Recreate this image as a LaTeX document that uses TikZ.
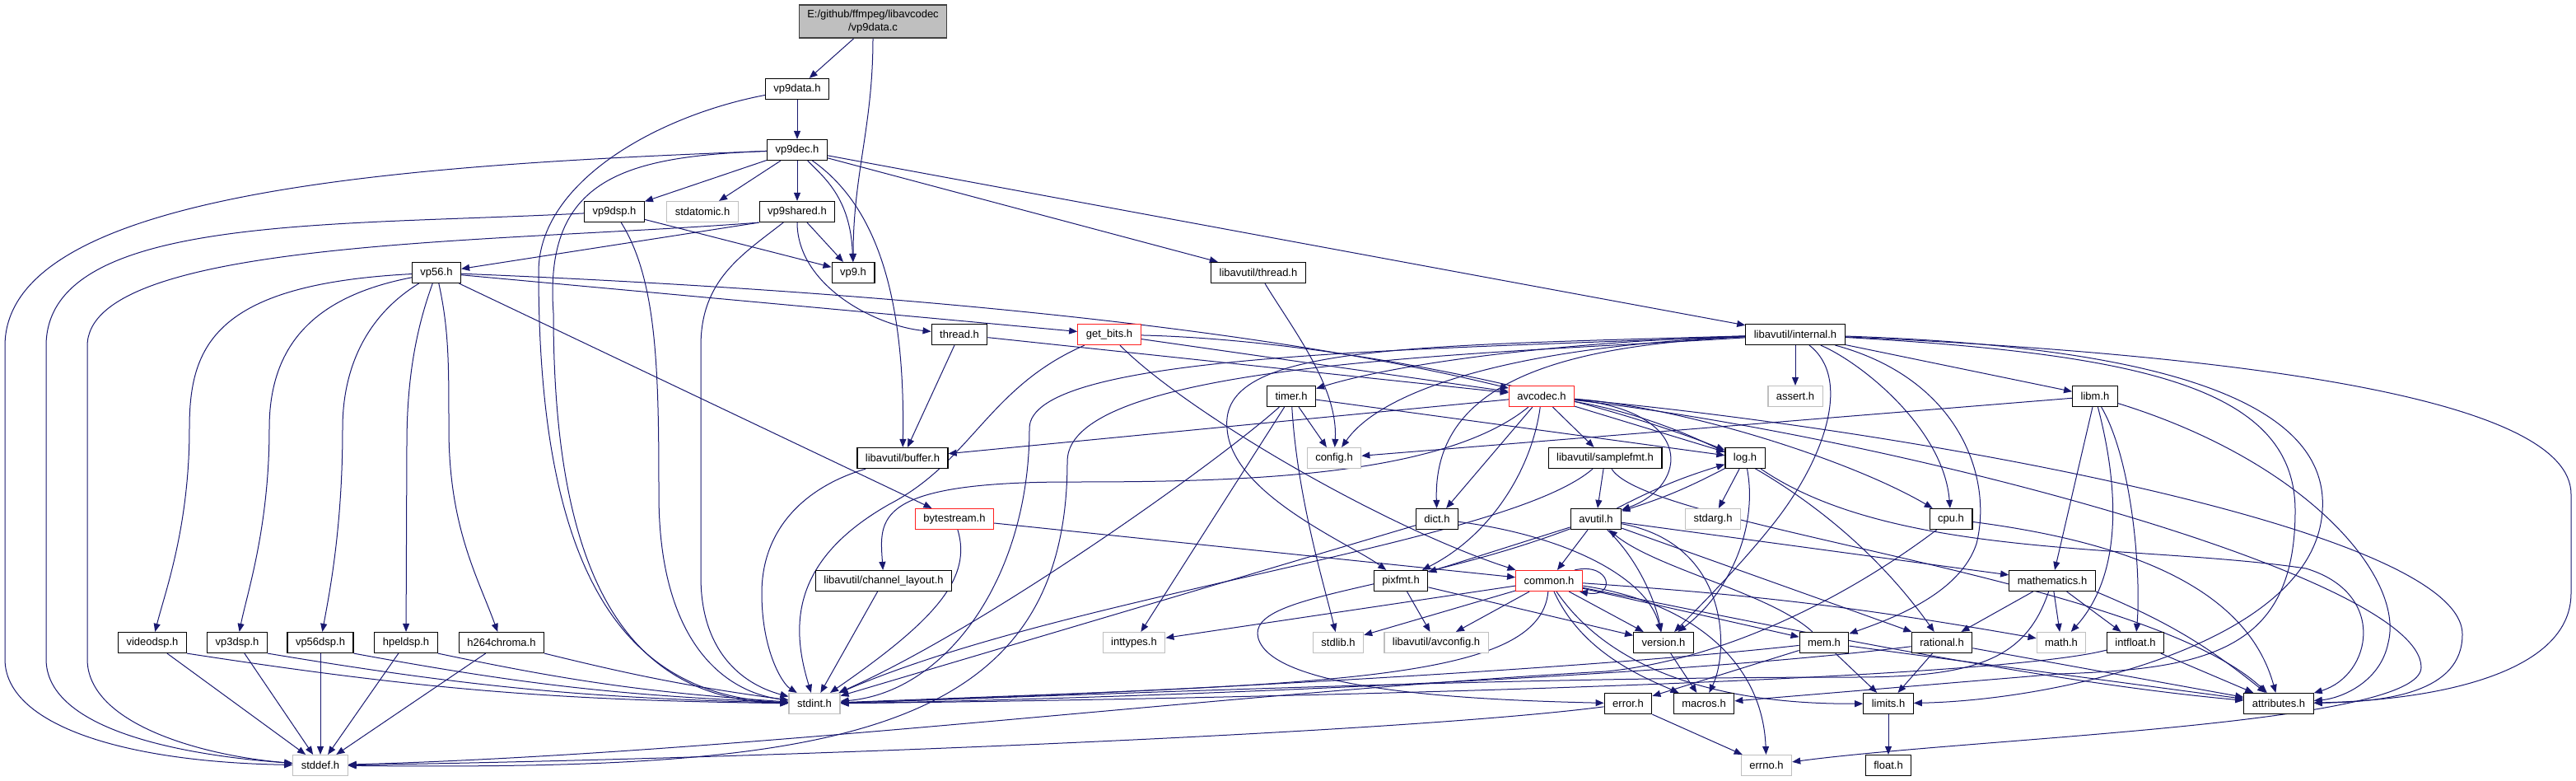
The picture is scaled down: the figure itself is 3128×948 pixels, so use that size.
\documentclass[tikz,border=0pt]{standalone}
\usepackage{fontspec}
\setmainfont{Liberation Sans}
\usepackage{tikz}
\usetikzlibrary{arrows.meta, backgrounds}
\definecolor{edgeblue}{HTML}{191970}
\definecolor{sysgray}{HTML}{BFBFBF}
\definecolor{truncred}{HTML}{FF2020}
\tikzset{
	hdr/.style={rectangle, draw=black, line width=0.6pt, fill=white, inner xsep=5pt,
		inner ysep=1pt, minimum height=12.5pt, font=\fontsize{6.5}{8}\selectfont},
	syshdr/.style={hdr, draw=sysgray},
	trunc/.style={hdr, draw=truncred},
	root/.style={hdr, fill=sysgray, draw=black!75, align=center, minimum height=20pt},
	arr/.style={-{Triangle[length=5pt, width=4pt]}, line width=0.5pt, color=edgeblue},
}
\begin{document}
\begin{tikzpicture}[x=0.5pt, y=-0.5pt]
	\useasboundingbox (0,0) rectangle (3128,948);
	
	\node[root] (vpc) at (1060,26) {E:/github/ffmpeg/libavcodec\\/vp9data.c};
	\node[hdr] (vdh) at (968,108) {vp9data.h};
	\node[hdr] (vdec) at (968,182) {vp9dec.h};
	\node[hdr] (vdsp) at (746,257) {vp9dsp.h};
	\node[syshdr] (atom) at (853,257) {stdatomic.h};
	\node[hdr] (vsh) at (968,257) {vp9shared.h};
	\node[hdr] (vp56) at (530,331) {vp56.h};
	\node[hdr] (vp9) at (1036,331) {vp9.h};
	\node[hdr] (uthr) at (1528,331) {libavutil/thread.h};
	\node[hdr] (thr) at (1165,406) {thread.h};
	\node[trunc] (gbits) at (1347,406) {get\_bits.h};
	\node[hdr] (intl) at (2180,406) {libavutil/internal.h};
	\node[hdr] (timer) at (1568,481) {timer.h};
	\node[trunc] (avc) at (1872,481) {avcodec.h};
	\node[syshdr] (assrt) at (2180,481) {assert.h};
	\node[hdr] (libm) at (2544,481) {libm.h};
	\node[hdr] (buf) at (1096,556) {libavutil/buffer.h};
	\node[syshdr] (cfg) at (1620,556) {config.h};
	\node[hdr] (log) at (2119,556) {log.h};
	\node[hdr] (smp) at (1949,556) {libavutil/samplefmt.h};
	\node[trunc] (bstr) at (1159,630) {bytestream.h};
	\node[hdr] (dict) at (1745,630) {dict.h};
	\node[hdr] (avu) at (1938,630) {avutil.h};
	\node[syshdr] (starg) at (2080,630) {stdarg.h};
	\node[hdr] (cpu) at (2369,630) {cpu.h};
	\node[hdr] (chl) at (1073,705) {libavutil/channel\_layout.h};
	\node[hdr] (pix) at (1701,705) {pixfmt.h};
	\node[trunc] (com) at (1881,705) {common.h};
	\node[hdr] (mathx) at (2492,705) {mathematics.h};
	\node[hdr] (vidsp) at (185,780) {videodsp.h};
	\node[hdr] (vp3) at (288,780) {vp3dsp.h};
	\node[hdr] (v56d) at (389,780) {vp56dsp.h};
	\node[hdr] (hpel) at (493,780) {hpeldsp.h};
	\node[hdr] (h264) at (609,780) {h264chroma.h};
	\node[syshdr] (intt) at (1377,780) {inttypes.h};
	\node[syshdr] (stdl) at (1625,780) {stdlib.h};
	\node[syshdr] (avcf) at (1744,780) {libavutil/avconfig.h};
	\node[hdr] (ver) at (2020,780) {version.h};
	\node[hdr] (mem) at (2215,780) {mem.h};
	\node[hdr] (rat) at (2358,780) {rational.h};
	\node[syshdr] (cmath) at (2503,780) {math.h};
	\node[hdr] (intf) at (2593,780) {intfloat.h};
	\node[syshdr] (sint) at (989,854) {stdint.h};
	\node[hdr] (err) at (1977,854) {error.h};
	\node[hdr] (mac) at (2069,854) {macros.h};
	\node[hdr] (lim) at (2293,854) {limits.h};
	\node[hdr] (attr) at (2767,854) {attributes.h};
	\node[syshdr] (sdef) at (389,929) {stddef.h};
	\node[syshdr] (errno) at (2145,929) {errno.h};
	\node[hdr] (flt) at (2293,929) {float.h};
	
	\begin{scope}[on background layer]
	% vp9 headers
	\draw[arr] (vpc) -- (vdh);
	\draw[arr] (vpc) to[out=-90, in=90] (vp9);
	\draw[arr] (vdh) -- (vdec);
	\draw[arr] (vdh) .. controls (800,140) and (654,220) .. (654,330) .. controls (654,700) and (760,845) .. (sint);
	\draw[arr] (vdec) .. controls (500,200) and (6,230) .. (6,420) -- (6,800) .. controls (6,880) and (150,925) .. (sdef);
	\draw[arr] (vdec) .. controls (760,190) and (660,215) .. (672,380) .. controls (672,700) and (760,850) .. (sint);
	\draw[arr] (vdec) -- (atom);
	\draw[arr] (vdec) .. controls (1050,240) and (1100,330) .. (buf);
	\draw[arr] (vdec) -- (uthr);
	\draw[arr] (vdec) -- (intl);
	\draw[arr] (vdec) .. controls (1000,215) and (1033,240) .. (vp9);
	\draw[arr] (vdec) -- (vdsp);
	\draw[arr] (vdec) -- (vsh);
	\draw[arr] (vdsp) .. controls (400,275) and (56,260) .. (56,420) -- (56,800) .. controls (56,880) and (200,915) .. (sdef);
	\draw[arr] (vdsp) .. controls (798,340) and (800,450) .. (800,600) .. controls (800,780) and (880,840) .. (sint);
	\draw[arr] (vdsp) -- (vp9);
	\draw[arr] (vsh.south west) .. controls (600,295) and (106,290) .. (106,420) -- (106,800) .. controls (106,880) and (250,918) .. (sdef);
	\draw[arr] (vsh) .. controls (900,310) and (851,340) .. (851,420) -- (851,700) .. controls (851,790) and (900,830) .. (sint);
	\draw[arr] (vsh) -- (vp9);
	\draw[arr] (vsh) .. controls (968,345) and (1060,395) .. (thr);
	\draw[arr] (vsh.south west) -- (vp56);
	
	% vp56.h
	\draw[arr] (vp56) .. controls (1000,350) and (1500,390) .. (avc);
	\draw[arr] (vp56) -- (gbits);
	\draw[arr] (vp56) -- (bstr);
	\draw[arr] (vp56) .. controls (260,345) and (230,420) .. (230,520) .. controls (230,640) and (200,720) .. (vidsp);
	\draw[arr] (vp56) .. controls (380,360) and (327,420) .. (327,520) .. controls (327,640) and (300,720) .. (vp3);
	\draw[arr] (vp56) .. controls (450,380) and (416,440) .. (416,520) .. controls (416,640) and (400,720) .. (v56d);
	\draw[arr] (vp56) .. controls (505,400) and (494,460) .. (494,540) -- (hpel);
	\draw[arr] (vp56) .. controls (545,400) and (545,440) .. (545,520) .. controls (545,640) and (580,700) .. (h264);
	\draw[arr] (vidsp) -- (sdef);
	\draw[arr] (vp3) -- (sdef);
	\draw[arr] (v56d) -- (sdef);
	\draw[arr] (hpel) -- (sdef);
	\draw[arr] (h264) -- (sdef);
	\draw[arr] (vidsp.south east) to[bend right=4] (sint);
	\draw[arr] (vp3.south east) to[bend right=4] (sint);
	\draw[arr] (v56d.south east) to[bend right=4] (sint);
	\draw[arr] (hpel.south east) to[bend right=4] (sint);
	\draw[arr] (h264.south east) to[bend right=3] (sint);
	
	% libavcodec helpers
	\draw[arr] (uthr) .. controls (1570,400) and (1625,470) .. (cfg);
	\draw[arr] (thr) -- (buf);
	\draw[arr] (thr) -- (avc);
	\draw[arr] (gbits) -- (avc);
	\draw[arr] (gbits) .. controls (1600,412) and (1900,470) .. (log);
	\draw[arr] (gbits) .. controls (1200,470) and (1180,560) .. (1080,612) .. controls (960,680) and (960,760) .. (sint);
	\draw[arr] (gbits) .. controls (1440,500) and (1680,640) .. (com);
	\draw[arr] (bstr) -- (com);
	\draw[arr] (bstr) .. controls (1180,700) and (1140,750) .. (sint);
	\draw[arr] (chl) -- (sint);
	\draw[arr] (buf) .. controls (980,590) and (925,640) .. (925,720) .. controls (925,790) and (950,830) .. (sint);
	
	% libavutil/internal.h
	\draw[arr] (intl) -- (assrt);
	\draw[arr] (intl) -- (libm);
	\draw[arr] (intl) .. controls (1900,415) and (1700,440) .. (timer);
	\draw[arr] (intl) .. controls (1850,420) and (1680,470) .. (cfg);
	\draw[arr] (intl) .. controls (1880,420) and (1740,470) .. (dict);
	\draw[arr] (intl) .. controls (1700,420) and (1480,420) .. (1490,520) .. controls (1495,600) and (1640,660) .. (pix);
	\draw[arr] (intl) .. controls (1700,425) and (1250,430) .. (1250,520) .. controls (1250,700) and (1150,840) .. (sint);
	\draw[arr] (intl) .. controls (1800,430) and (1296,440) .. (1296,560) .. controls (1296,900) and (1000,935) .. (sdef);
	\draw[arr] (intl) .. controls (2260,440) and (2360,520) .. (cpu);
	\draw[arr] (intl) .. controls (2380,460) and (2420,580) .. (2400,660) .. controls (2380,720) and (2300,750) .. (mem);
	\draw[arr] (intl) .. controls (2250,460) and (2215,560) .. (2150,640) .. controls (2110,690) and (2060,740) .. (ver);
	\draw[arr] (intl) .. controls (2600,420) and (2830,480) .. (2820,620) .. controls (2810,780) and (2500,850) .. (lim);
	\draw[arr] (intl) .. controls (2600,430) and (2787,470) .. (2787,620) .. controls (2787,790) and (2680,812) .. (2500,818) -- (mac);
	\draw[arr] (intl) .. controls (2700,430) and (3122,480) .. (3122,600) -- (3122,720) .. controls (3122,820) and (2950,850) .. (attr);
	
	% avcodec.h
	\draw[arr] (avc) -- (buf);
	\draw[arr] (avc) .. controls (1750,580) and (1500,585) .. (1300,585) .. controls (1060,585) and (1068,630) .. (chl);
	\draw[arr] (avc) -- (dict);
	\draw[arr] (avc) .. controls (1860,570) and (1810,650) .. (pix);
	\draw[arr] (avc) -- (smp);
	\draw[arr] (avc) -- (log);
	\draw[arr] (avc) .. controls (2060,500) and (2050,590) .. (avu);
	\draw[arr] (avc) .. controls (2050,495) and (2250,560) .. (cpu);
	\draw[arr] (avc) .. controls (2050,510) and (2230,600) .. (rat);
	\draw[arr] (avc) .. controls (2300,520) and (2990,640) .. (2990,770) .. controls (2990,840) and (2900,852) .. (attr);
	\draw[arr] (avc) .. controls (2300,530) and (2940,700) .. (2940,810) .. controls (2940,880) and (2400,895) .. (errno);
	
	% timer.h, libm.h
	\draw[arr] (timer) -- (cfg);
	\draw[arr] (timer) -- (log);
	\draw[arr] (timer) .. controls (1575,600) and (1605,700) .. (stdl);
	\draw[arr] (timer) -- (intt);
	\draw[arr] (timer) .. controls (1480,560) and (1200,760) .. (sint);
	\draw[arr] (libm) -- (cfg);
	\draw[arr] (libm) -- (mathx);
	\draw[arr] (libm) .. controls (2575,600) and (2575,700) .. (cmath);
	\draw[arr] (libm) .. controls (2590,560) and (2600,700) .. (intf);
	\draw[arr] (libm) .. controls (2800,560) and (2920,700) .. (2900,780) .. controls (2890,830) and (2840,848) .. (attr);
	
	% samplefmt.h, log.h, dict.h
	\draw[arr] (smp) -- (avu);
	\draw[arr] (smp) .. controls (1830,660) and (1300,720) .. (sint);
	\draw[arr] (smp) .. controls (2000,640) and (2600,700) .. (attr);
	\draw[arr] (log) -- (starg);
	\draw[arr] (log) to[bend left=5] (avu);
	\draw[arr] (avu) to[bend left=5] (log);
	\draw[arr] (log) .. controls (2135,640) and (2100,720) .. (ver);
	\draw[arr] (log) .. controls (2300,680) and (2600,660) .. (2800,690) .. controls (2900,720) and (2880,820) .. (attr);
	\draw[arr] (dict) -- (sint);
	\draw[arr] (dict) .. controls (1900,650) and (2000,700) .. (ver);
	
	% avutil.h, cpu.h, pixfmt.h
	\draw[arr] (avu) -- (com);
	\draw[arr] (avu) .. controls (1700,720) and (1500,720) .. (1530,780) .. controls (1560,840) and (1800,850) .. (err);
	\draw[arr] (avu) .. controls (1990,680) and (2010,730) .. (ver);
	\draw[arr] (avu) .. controls (2100,660) and (2100,790) .. (mac);
	\draw[arr] (avu) -- (mathx);
	\draw[arr] (avu) -- (rat);
	\draw[arr] (avu) -- (pix);
	\draw[arr] (cpu) .. controls (2600,660) and (2730,720) .. (attr);
	\draw[arr] (cpu) .. controls (2250,720) and (2100,800) .. (1950,815) .. controls (1500,840) and (900,915) .. (sdef);
	\draw[arr] (pix) -- (avcf);
	\draw[arr] (pix) -- (ver);
	
	% common.h
	\draw[arr] (com) -- (intt);
	\draw[arr] (com) -- (stdl);
	\draw[arr] (com) -- (avcf);
	\draw[arr] (com) .. controls (1870,830) and (1600,830) .. (sint);
	\draw[arr] (com) .. controls (2050,730) and (2140,800) .. (errno);
	\draw[arr] (com) .. controls (1960,820) and (2100,855) .. (lim);
	\draw[arr] (com) to[bend left=3] (cmath);
	\draw[arr] (com) .. controls (2200,770) and (2500,830) .. (attr);
	\draw[arr] (com) .. controls (1920,790) and (1990,820) .. (mac);
	\draw[arr] (com) -- (ver);
	\draw[arr] (com) -- (mem);
	\draw[arr] ([xshift=-5pt]com.north east) .. controls +(45,-10) and +(45,8) .. ([xshift=-2pt]com.south east);
	
	% mem.h, rational.h, mathematics.h, intfloat.h
	\draw[arr] (mem) -- (lim);
	\draw[arr] (mem) -- (attr);
	\draw[arr] (mem) -- (err);
	\draw[arr] (mem) .. controls (1900,815) and (1300,845) .. (sint);
	\draw[arr] (mem) .. controls (2150,720) and (2010,690) .. (avu);
	\draw[arr] (rat) -- (lim);
	\draw[arr] (rat) -- (attr);
	\draw[arr] (rat) .. controls (2000,825) and (1300,850) .. (sint);
	\draw[arr] (mathx) -- (rat);
	\draw[arr] (mathx) -- (cmath);
	\draw[arr] (mathx) -- (intf);
	\draw[arr] (mathx.south east) to[bend left=8] (attr);
	\draw[arr] (mathx) .. controls (2460,800) and (2400,822) .. (2250,822) .. controls (1800,822) and (1300,845) .. (sint);
	\draw[arr] (intf) -- (attr);
	\draw[arr] (intf) .. controls (2400,830) and (1400,850) .. (sint);
	
	% leaves
	\draw[arr] (ver) -- (mac);
	\draw[arr] (err) -- (errno);
	\draw[arr] (err) .. controls (1700,890) and (900,922) .. (sdef);
	\draw[arr] (lim) -- (flt);
	\end{scope}
	
\end{tikzpicture}
\end{document}
